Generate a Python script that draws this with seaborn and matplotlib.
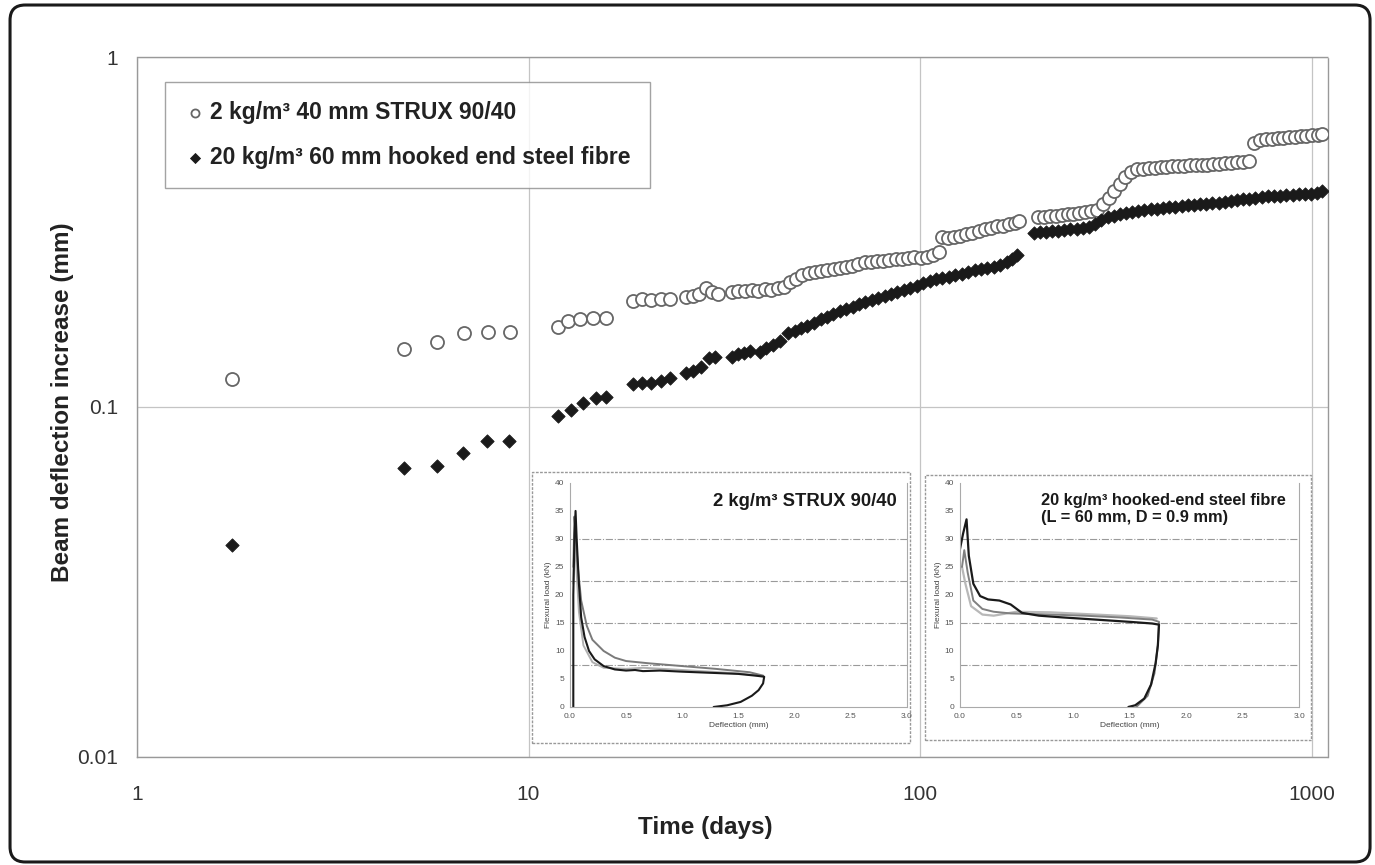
import matplotlib
matplotlib.use("Agg")
import matplotlib.pyplot as plt
import seaborn as sns
import pandas as pd
from matplotlib.patches import FancyBboxPatch, Rectangle
from matplotlib.ticker import FixedLocator, FuncFormatter, LogLocator, NullFormatter

# main chart: time (days) vs beam deflection increase (mm)
strux_days = [1.75, 4.8, 5.85, 6.85, 7.9, 8.95, 11.9, 12.6, 13.5, 14.6, 15.8,
              18.5, 19.5, 20.6, 21.8, 23.0, 25.2, 26.3, 27.3, 28.4, 29.4, 30.5,
              33.0, 34.3, 35.7, 37.1, 38.6, 40.1, 41.7, 43.3, 44.9, 46.5, 48.2,
              50.0, 51.9, 53.8, 55.8, 57.9, 60.1, 62.3, 64.6, 67.0, 69.5, 72.1,
              74.8, 77.6, 80.5, 83.5, 86.6, 89.8, 93.1, 96.6, 100.2, 103.9,
              107.8, 112.0, 114.0, 118.0, 122.0, 126.5, 131.0, 136.0, 141.0,
              146.0, 151.5, 157.0, 163.0, 169.0, 175.0, 179.0,
              200, 207, 214, 222, 230, 238, 246, 255, 264, 273, 283,
              293, 303, 313, 323, 334, 346, 358, 370, 383, 397, 411,
              425, 440, 456, 472, 488, 505, 523, 541, 560, 580, 600,
              621, 643, 666, 690,
              712, 738, 764, 790, 818, 846, 875, 905, 936, 968, 1000, 1035, 1065]
strux_defl = [0.120, 0.146, 0.153, 0.163, 0.164, 0.164, 0.169, 0.176, 0.179, 0.180, 0.180,
              0.201, 0.203, 0.202, 0.204, 0.203, 0.206, 0.208, 0.211, 0.219, 0.213, 0.210,
              0.213, 0.215, 0.214, 0.216, 0.215, 0.217, 0.216, 0.219, 0.220, 0.228, 0.232,
              0.238, 0.241, 0.243, 0.245, 0.246, 0.248, 0.250, 0.251, 0.253, 0.257, 0.260,
              0.259, 0.262, 0.261, 0.263, 0.265, 0.264, 0.266, 0.268, 0.267, 0.269,
              0.272, 0.278, 0.306, 0.305, 0.307, 0.309, 0.312, 0.315, 0.318,
              0.322, 0.325, 0.328, 0.330, 0.333, 0.336, 0.340,
              0.349, 0.350, 0.351, 0.352, 0.353, 0.355, 0.356, 0.358, 0.360, 0.362, 0.365,
              0.380, 0.395, 0.415, 0.435, 0.455, 0.470, 0.478, 0.480, 0.482, 0.483, 0.485,
              0.486, 0.487, 0.488, 0.488, 0.490, 0.490, 0.492, 0.493, 0.494, 0.495, 0.497,
              0.498, 0.500, 0.502, 0.505,
              0.570, 0.578, 0.582, 0.585, 0.587, 0.588, 0.590, 0.592, 0.594, 0.595, 0.597,
              0.599, 0.601]

steel_days = [1.75, 4.8, 5.85, 6.8, 7.85, 8.9, 11.9, 12.8, 13.8, 14.9, 15.8,
              18.5, 19.5, 20.6, 21.8, 23.0, 25.2, 26.3, 27.5, 28.9, 30.0,
              33.0, 34.2, 35.5, 36.8, 39.0, 40.4, 42.0, 43.9, 46.0, 47.8, 49.6,
              51.5, 53.5, 55.7, 57.8, 60.0, 62.3, 64.7, 67.2, 69.8, 72.5, 75.3,
              78.2, 81.2, 84.3, 87.5, 90.9, 94.4, 98.0, 101.8, 105.7, 109.8, 114.0,
              118.4, 123.0, 127.7, 132.6, 137.7, 143.0, 148.5, 154.2, 160.1, 166.3,
              172.0, 177.0,
              195, 202, 209, 217, 225, 233, 242, 251, 260, 270, 280,
              290, 301, 312, 324, 336, 348, 361, 374, 388, 402, 417,
              432, 448, 465, 482, 500, 518, 537, 557, 578, 599, 621,
              644, 668, 693, 718, 745, 772, 801, 830, 861, 893, 926,
              960, 995, 1030, 1060]
steel_defl = [0.0403, 0.067, 0.068, 0.074, 0.080, 0.080, 0.094, 0.098, 0.1025, 0.106, 0.107,
              0.116, 0.117, 0.117, 0.119, 0.121, 0.125, 0.127, 0.130, 0.138, 0.139,
              0.139, 0.142, 0.143, 0.145, 0.144, 0.147, 0.150, 0.154, 0.163, 0.165, 0.168,
              0.170, 0.174, 0.178, 0.181, 0.184, 0.188, 0.190, 0.193, 0.197, 0.200, 0.202,
              0.205, 0.207, 0.210, 0.213, 0.216, 0.219, 0.222, 0.226, 0.229, 0.232, 0.234,
              0.236, 0.238, 0.240, 0.243, 0.246, 0.248, 0.250, 0.252, 0.255, 0.259,
              0.264, 0.271,
              0.314, 0.316, 0.317, 0.318, 0.319, 0.321, 0.322, 0.323, 0.325, 0.327, 0.333,
              0.342, 0.348, 0.352, 0.356, 0.359, 0.361, 0.363, 0.365, 0.367, 0.369, 0.371,
              0.373, 0.374, 0.376, 0.377, 0.379, 0.380, 0.381, 0.382, 0.384, 0.386, 0.388,
              0.390, 0.392, 0.394, 0.396, 0.398, 0.400, 0.401, 0.402, 0.403, 0.404, 0.405,
              0.406, 0.407, 0.408, 0.415]

strux_label = "2 kg/m³ 40 mm STRUX 90/40"
steel_label = "20 kg/m³ 60 mm hooked end steel fibre"

# inset 1: load-deflection curves, STRUX
strux_a_x = [0.03, 0.03, 0.04, 0.05, 0.06, 0.08, 0.10, 0.13, 0.17, 0.22, 0.30, 0.40, 0.50, 0.58,
             0.65, 0.80, 1.00, 1.25, 1.50, 1.65, 1.73, 1.72, 1.68, 1.62, 1.52, 1.40, 1.28]
strux_a_y = [0.0, 20.0, 30.0, 35.0, 30.0, 22.0, 16.0, 12.5, 10.0, 8.5, 7.3, 6.7, 6.5, 6.6,
             6.4, 6.5, 6.3, 6.1, 5.9, 5.6, 5.4, 4.2, 3.0, 2.0, 0.9, 0.3, 0.0]
strux_b_x = [0.03, 0.04, 0.05, 0.07, 0.10, 0.15, 0.20, 0.30, 0.40, 0.50, 0.70, 1.00, 1.30,
             1.60, 1.72]
strux_b_y = [25.0, 34.0, 31.0, 25.0, 19.0, 14.5, 12.0, 10.0, 8.8, 8.2, 7.8, 7.3, 6.8, 6.2, 5.6]
strux_c_x = [0.03, 0.04, 0.06, 0.08, 0.12, 0.20, 0.30, 0.50, 0.65, 1.00, 1.50, 1.72]
strux_c_y = [22.0, 31.0, 24.0, 17.0, 11.0, 8.0, 7.0, 6.8, 7.0, 6.6, 6.0, 5.5]

# inset 2: load-deflection curves, hooked-end steel fibre
steel_a_x = [0.0, 0.0, 0.03, 0.06, 0.08, 0.12, 0.18, 0.25, 0.35, 0.45, 0.55, 0.70, 0.90,
             1.20, 1.50, 1.70, 1.76, 1.75, 1.73, 1.69, 1.63, 1.55, 1.49]
steel_a_y = [0.0, 28.0, 31.0, 33.5, 27.0, 22.0, 19.8, 19.2, 19.0, 18.3, 16.8, 16.3, 16.0,
             15.6, 15.2, 14.9, 14.7, 11.0, 7.8, 4.0, 1.5, 0.3, 0.0]
steel_b_x = [0.02, 0.04, 0.07, 0.12, 0.20, 0.30, 0.45, 0.60, 0.80, 1.10, 1.40, 1.70, 1.76,
             1.75, 1.72, 1.66, 1.56]
steel_b_y = [25.0, 28.0, 24.0, 19.0, 17.5, 17.0, 16.7, 16.6, 16.5, 16.3, 16.0, 15.6, 15.2,
             11.0, 6.0, 2.0, 0.0]
steel_c_x = [0.02, 0.05, 0.10, 0.20, 0.30, 0.50, 0.80, 1.20, 1.50, 1.74]
steel_c_y = [25.0, 22.0, 18.0, 16.5, 16.3, 17.0, 16.9, 16.5, 16.2, 15.8]

sns.set_theme(style="white")
plt.rcParams['font.family'] = ['Liberation Sans', 'DejaVu Sans']

fig = plt.figure(figsize=(13.75, 8.65), dpi=100)
ax = fig.add_axes([0.0996, 0.125, 0.8662, 0.809])

df_strux = pd.DataFrame({'days': strux_days, 'defl': strux_defl})
df_steel = pd.DataFrame({'days': steel_days, 'defl': steel_defl})
sns.scatterplot(data=df_strux, x='days', y='defl', marker='o', s=88, color='white',
                edgecolor='#666666', linewidth=1.3, ax=ax, label=strux_label, zorder=3)
sns.scatterplot(data=df_steel, x='days', y='defl', marker='D', s=46, color='#1a1a1a',
                edgecolor='#1a1a1a', linewidth=0.6, ax=ax, label=steel_label, zorder=3)

ax.set_xscale('log')
ax.set_yscale('log')
ax.set_xlim(1, 1100)
ax.set_ylim(0.01, 1)
ax.set_xticks([1, 10, 100, 1000])
ax.set_yticks([0.01, 0.1, 1])
fmt = FuncFormatter(lambda v, p: '%g' % v)
ax.xaxis.set_major_formatter(fmt)
ax.yaxis.set_major_formatter(fmt)
ax.xaxis.set_minor_locator(LogLocator(base=10, subs=range(2, 10)))
ax.yaxis.set_minor_locator(LogLocator(base=10, subs=range(2, 10)))
ax.xaxis.set_minor_formatter(NullFormatter())
ax.yaxis.set_minor_formatter(NullFormatter())
ax.tick_params(which='major', labelsize=15, colors='#333333', length=4)
ax.tick_params(which='minor', direction='in', length=3, color='#999999')
ax.tick_params(axis='x', which='major', pad=16)
ax.tick_params(axis='y', which='major', pad=9.5)
ax.grid(True, which='major', color='#c4c4c4', lw=0.9)
for sp in ax.spines.values():
    sp.set_color('#999999')
    sp.set_linestyle((0, (2, 1)))
    sp.set_linewidth(1.0)
ax.set_xlabel('Time (days)', fontsize=17.5, weight='bold', color='#222222',
              va='center', ha='center')
ax.set_ylabel('Beam deflection increase (mm)', fontsize=17.5, weight='bold', color='#222222',
              va='center', ha='center')
ax.xaxis.set_label_coords(0.477, -0.1014)
ax.yaxis.set_label_coords(-0.0621, 0.507)

leg = ax.legend(loc='upper left', bbox_to_anchor=(0.0235, 0.965), markerscale=0.5,
                prop={'size': 16.5, 'weight': 'bold'}, frameon=True, fancybox=False,
                edgecolor='#8c8c8c', labelspacing=0.95, handletextpad=0.2,
                borderpad=0.85, handlelength=0.9, borderaxespad=0)
leg.get_frame().set_linewidth(1.0)
leg.legend_handles[0].set_sizes([34])
leg.legend_handles[1].set_sizes([26])
for t in leg.get_texts():
    t.set_color('#222222')

# inset frames
for (fx, fy, fw, fh) in [(0.387, 0.141, 0.275, 0.313), (0.6727, 0.1445, 0.281, 0.306)]:
    fig.patches.append(Rectangle((fx, fy), fw, fh, transform=fig.transFigure,
                                 facecolor='white', edgecolor='#999999', lw=1.0,
                                 linestyle=(0, (2, 1)), zorder=1))


def draw_inset(rect, curves, title, tx, ha, tsize):
    ia = fig.add_axes(rect)
    ia.set_zorder(2)
    for cx, cy, col, lw in curves:
        sns.lineplot(x=cx, y=cy, sort=False, estimator=None, color=col, lw=lw, ax=ia)
    ia.set_xlim(0, 3.0)
    ia.set_ylim(0, 40)
    ia.set_xticks([0.0, 0.5, 1.0, 1.5, 2.0, 2.5, 3.0])
    ia.set_yticks(range(0, 45, 5))
    ia.xaxis.set_major_formatter(FuncFormatter(lambda v, p: '%.1f' % v))
    ia.yaxis.remove_overlapping_locs = False
    ia.yaxis.set_minor_locator(FixedLocator([7.5, 15, 22.5, 30]))
    ia.grid(True, which='minor', axis='y', color='#9a9a9a', lw=0.8, linestyle='-.')
    ia.tick_params(which='major', labelsize=6, length=2, pad=2, colors='#555555')
    ia.tick_params(which='minor', length=0)
    for sp in ia.spines.values():
        sp.set_color('#aaaaaa')
        sp.set_linestyle((0, (2, 1)))
        sp.set_linewidth(0.8)
    ia.spines['top'].set_visible(False)
    ia.set_xlabel('Deflection (mm)', fontsize=6, labelpad=2, color='#444444')
    ia.set_ylabel('Flexural load (kN)', fontsize=6, labelpad=2, color='#444444')
    ia.text(tx, 0.955, title, transform=ia.transAxes, ha=ha, va='top', weight='bold',
            fontsize=tsize, color='#1a1a1a', linespacing=1.15)
    return ia


draw_inset([0.4145, 0.1827, 0.245, 0.259],
           [(strux_c_x, strux_c_y, '#b0b0b0', 1.4),
            (strux_b_x, strux_b_y, '#7a7a7a', 1.4),
            (strux_a_x, strux_a_y, '#1a1a1a', 1.5)],
           '2 kg/m³ STRUX 90/40', 0.97, 'right', 13.3)
draw_inset([0.698, 0.1827, 0.247, 0.259],
           [(steel_c_x, steel_c_y, '#b8b8b8', 1.6),
            (steel_b_x, steel_b_y, '#808080', 1.4),
            (steel_a_x, steel_a_y, '#1a1a1a', 1.6)],
           '20 kg/m³ hooked-end steel fibre\n(L = 60 mm, D = 0.9 mm)', 0.24, 'left', 11.8)

# rounded outer border
fig.patches.append(FancyBboxPatch((0.0073, 0.0035), 0.9891, 0.9907,
                                  boxstyle='round,pad=0,rounding_size=0.011',
                                  mutation_aspect=1375 / 865, transform=fig.transFigure,
                                  fill=False, edgecolor='#1a1a1a', lw=2.2, zorder=5))

fig.savefig('out.png', dpi=100)
